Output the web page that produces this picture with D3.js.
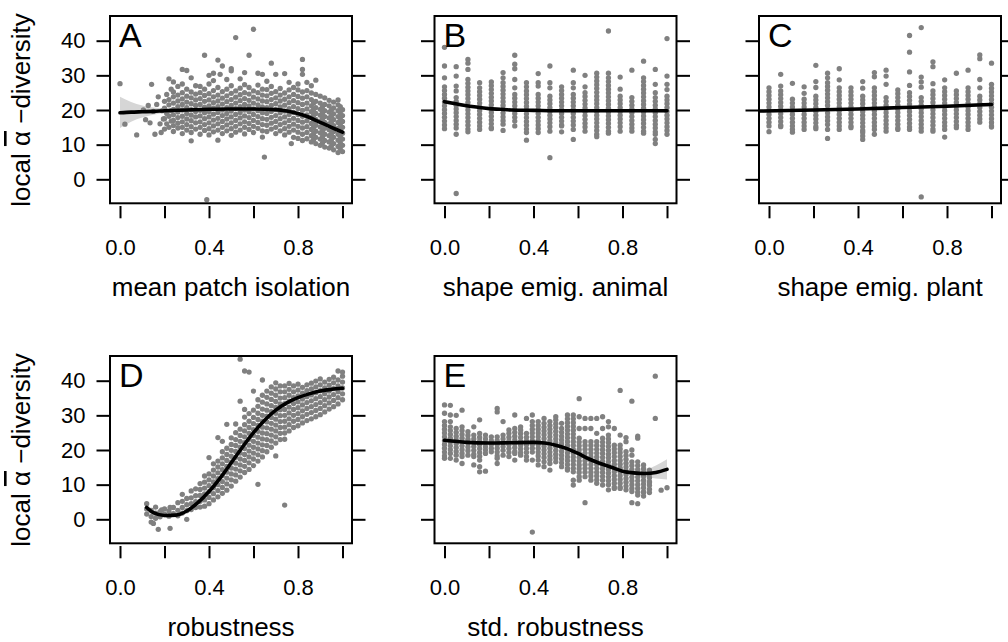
<!DOCTYPE html>
<html><head><meta charset="utf-8">
<script src="https://cdn.jsdelivr.net/npm/d3@7/dist/d3.min.js"></script>
<style>body{margin:0;background:#fff} svg text{font-family:"Liberation Sans",Arial,sans-serif;fill:#000}</style>
</head><body><svg id="c" width="1008" height="642"></svg>
<script>
// ---------- tick / label data ----------
const xTicks=[0,0.2,0.4,0.6,0.8,1.0];
const xTickLabels=["0.0","","0.4","","0.8",""];
const yTicks=[0,10,20,30,40];
const panelLetters=["A","B","C","D","E"];
const xTitles=["mean patch isolation","shape emig. animal","shape emig. plant","robustness","std. robustness"];
const yTitle=["local ","\u03b1"," \u2212diversity"];

// ---------- panel A (mean patch isolation) ----------
const aSparse=[[0,27.6],[0.022,15.9],[0.075,12.8],[0.105,20],[0.115,17.2],[0.127,21.3],[0.135,16.3],[0.142,27.4],[0.15,19.6],[0.157,13],[0.165,21.6],[0.172,23.8],[0.18,16],[0.185,13.5],[0.19,19.8],[0.195,17.4],[0.39,-5.9],[0.649,6.4],[0.77,10.3]];
const aSlices=[
[0.20,[14.5,17.5,20.5,22.5]],[0.21,[16,19,24.5]],[0.22,[15,18.2,21.5,23,29]],[0.23,[16.8,19.8,26]],
[0.24,[13.8,15.5,17,18.6,20.2,22,23.8,25.2,28.1]],[0.26,[14.8,16.2,17.8,19.4,21,22.6,24.3,26.8]],
[0.28,[13.2,15,16.6,18.2,20,21.6,23.2,25,27.5,31.7]],[0.30,[14.2,15.8,17.4,19,20.7,22.3,24,26,31.4]],
[0.32,[11.1,13.5,15.2,16.9,18.5,20.1,21.8,23.5,25.2,29.3]],[0.34,[14.5,16.3,18,19.6,21.3,22.9,24.6,27]],
[0.36,[13,15,16.6,18.3,19.9,21.6,23.3,25,26.8]],[0.38,[14.1,15.8,17.5,19.2,20.8,22.5,24.2,26,35.8]],
[0.40,[12.8,14.6,16.3,18,19.6,21.2,22.9,24.7,27.5,30]],[0.42,[13.7,15.4,17.1,18.8,20.5,22.1,23.8,25.6,28.5,30.6]],
[0.44,[11.3,14.2,16,17.6,19.3,21,22.6,24.3,26.5,34.4]],[0.45,[30.3]],
[0.46,[13.2,15,16.7,18.4,20,21.7,23.4,25.3,32.7]],[0.48,[14,15.7,17.4,19,20.7,22.4,24.1,26,28.8]],
[0.50,[12.7,14.6,16.3,18,19.7,21.3,23,24.8,27,31.9,31.3]],[0.52,[13.6,15.3,17,18.7,20.4,22,23.7,25.5,40.9]],
[0.54,[14.2,16,17.7,19.3,21,22.7,24.4,26.3,29]],[0.56,[13.1,15,16.6,18.3,20,21.6,23.3,25,27.3,30.8]],
[0.58,[14.4,16.1,17.8,19.5,21.2,22.8,24.6,26.5,35.8]],[0.60,[13.5,15.3,17,18.7,20.3,22,23.7,25.5,43.3]],
[0.62,[14.7,16.4,18.1,19.8,21.5,23.2,25,27.2,30.6]],[0.64,[12.2,14,15.8,17.5,19.2,20.9,22.6,24.3,26,30.3]],
[0.66,[13.8,15.6,17.3,19,20.7,22.4,24.1,25.9,28.3]],[0.68,[14.5,16.2,17.9,19.6,21.3,23,24.8,26.8,33.5]],
[0.70,[13.2,15,16.7,18.4,20.1,21.8,23.5,25.3,30.3]],[0.72,[14,15.8,17.5,19.2,20.9,22.6,24.3,26.2]],
[0.74,[12.8,14.6,16.3,18,19.7,21.4,23.1,24.9,30.5]],[0.76,[13.6,15.3,17,18.7,20.4,22.1,23.8,25.8,28]],
[0.78,[12.1,14.2,15.9,17.6,19.3,21,22.7,24.5,26.5]],[0.80,[11.8,13.6,15.3,17,18.7,20.4,22.1,23.9,25.8,27.5]],
[0.82,[11.2,13,14.8,16.5,18.2,19.9,21.6,23.4,25.2,30.3,31.7,34.6]],[0.84,[11.7,13.5,15.2,16.9,18.6,20.3,22,23.8,25.6,28]],
[0.86,[10.8,12.6,14.4,16.1,17.8,19.5,21.2,23,24.9,27]],[0.87,[11.5,13.2,15,16.8,18.5,20.2,22]],
[0.88,[10.3,12.1,13.9,15.6,17.3,19,20.7,22.5,24.5,28.6]],[0.90,[9.8,11.6,13.4,15.1,16.8,18.5,20.2,22,24]],
[0.91,[10.5,12.3,14,15.8,17.5,19.2,21]],[0.92,[9.3,11.2,13,14.7,16.4,18.1,19.8,21.6,23.5]],
[0.94,[9,10.8,12.6,14.3,16,17.7,19.4,21.2,22.8]],[0.95,[9.6,11.4,13.1,14.9,16.6,18.3,20]],
[0.96,[8.5,10.3,12.1,13.8,15.5,17.2,18.9,20.6,22.3]],[0.98,[7.7,9.5,11.3,13,14.7,16.4,18.1,19.8,21.5,22.9]],
[0.99,[8.8,10.6,12.4,14.1,15.8,17.5,19.2,21]],[1.00,[8,9.8,11.6,13.3,15,16.7,18.4,20.1]]];
const aFitX=[0,0.05,0.1,0.15,0.2,0.3,0.4,0.5,0.6,0.7,0.75,0.8,0.85,0.9,0.95,1.0];
const aFitY=[19.2,19.4,19.5,19.6,19.8,20.0,20.2,20.3,20.3,20.1,19.7,19.0,17.9,16.4,15.0,13.6];
const aFitLo=[14.8,16.6,17.8,18.6,19.1,19.5,19.8,19.9,19.9,19.7,19.3,18.6,17.5,16.0,14.5,12.9];
const aFitHi=[23.8,22.3,21.3,20.7,20.5,20.5,20.6,20.7,20.7,20.5,20.1,19.4,18.3,16.8,15.5,14.3];

// ---------- panels B and C (20 discrete levels) ----------
const bcLevels=[0,0.0526,0.1053,0.1579,0.2105,0.2632,0.3158,0.3684,0.4211,0.4737,0.5263,0.5789,0.6316,0.6842,0.7368,0.7895,0.8421,0.8947,0.9474,1];
const bCols=[
[38.1,32.7,29.3,26.7,25.6,24.5,23.4,22.3,21.2,20.1,19,17.9,16.8,15.7,14.6],
[32.5,29.8,26.9,25.5,23.6,22.5,21.4,20.3,19.2,18.1,17,15.9,14.8,13,-4.1],
[34.6,33.5,31.7,28.8,27.7,26.6,25.5,24.4,23.3,22.2,21.1,20,18.9,17.8,16.7,15.6,14.5,13.7],
[27.9,26.4,25.3,24.2,23.1,22,20.9,19.8,18.7,17.6,16.5,15.4,14.4],
[28.1,27,25.9,24.8,23.7,22.6,21.5,20.4,19.3,18.2,17.1,16,14.9,14.6],
[30.8,29.3,27.9,26.8,25.7,24.6,23.5,22.4,21.3,20.2,19.1,18,16.9,15.9,14.1],
[35.8,33.2,31.9,28.8,26.4,24.5,23.4,22.3,21.2,20.1,19,17.9,16.8,15.4],
[27.9,26.7,25.5,24.4,23.3,22.2,21.1,20,18.9,17.8,16.7,15.6,14.5,13.5,11.3],
[30.5,27.9,26.9,24.5,23.4,22.3,21.2,20.1,19,17.9,16.8,15.7,14.6,13.5],
[32.7,27.9,26.4,24,22.9,21.8,20.7,19.6,18.5,17.4,16.3,15.2,13.9,6.25],
[26.7,25.6,24.5,23.4,22.3,21.2,20.1,19,17.9,16.8,15.7,15.4,13.7],
[31.5,27.9,26.4,24.5,23.4,22.3,21.2,20.1,19,17.9,16.8,15.7,14.4,11.5],
[30,26.7,25,23.9,22.8,21.7,20.6,19.5,18.4,17.3,16.2,15.1,13.9],
[30.6,29.5,28.4,27.3,26.2,25.1,24,22.9,21.8,20.7,19.6,18.5,17.4,16.3,15.2,14.1,13,12.3],
[42.8,30.6,29.3,28.2,27.1,26,24.9,23.8,22.7,21.6,20.5,19.4,18.3,17.2,16.1,15,13.9,13.3],
[29.5,26,24,22.9,21.8,20.7,19.6,18.5,17.4,16.3,15.2,13.9],
[31.5,23.6,22.5,21.4,20.3,19.2,18.1,17,15.9,14.8,13.9],
[34.1,29.3,28.2,27.1,26,24.9,23.8,22.7,21.6,20.5,19.4,18.3,17.2,16.1,15,13.9,13.3],
[31.7,27.4,25,23.6,22.5,21.4,20.3,19.2,18.1,17,15.9,14.8,13.7,13,11.5,10.3],
[40.6,29.8,27.4,25.9,24,22.9,21.8,20.7,19.6,18.5,17.4,16.3,15.2,14.1,13]];
const bFitX=[0,0.05,0.1,0.15,0.2,0.25,0.3,0.4,0.5,0.6,0.7,0.8,0.9,1.0];
const bFitY=[22.4,21.8,21.2,20.8,20.4,20.2,20.0,19.9,19.8,19.8,19.8,19.8,19.8,19.8];
const bFitLo=[21.8,21.3,20.8,20.5,20.1,19.9,19.7,19.6,19.5,19.5,19.5,19.5,19.4,19.3];
const bFitHi=[23.0,22.3,21.6,21.1,20.7,20.5,20.3,20.2,20.1,20.1,20.1,20.1,20.2,20.3];
const cCols=[
[26.4,25.3,24.2,23.1,22,20.9,19.8,18.7,17.6,16.5,15.4,13.75],
[30.3,26.9,25.5,24.4,23.3,22.2,21.1,20,18.9,17.8,16.7,15.6,15.2],
[27.7,23.1,22,20.9,19.8,18.7,17.6,16.5,15.4,14.4,13.6],
[26.7,24.8,23.1,22,20.9,19.8,18.7,17.6,16.5,15.4,14.4],
[32.9,28.2,26.5,24,22.9,21.8,20.7,19.6,18.5,17.4,16.3,15.2,14.6],
[30.6,29.3,27.9,26.8,25.7,24.6,23.5,22.4,21.3,20.2,19.1,18,16.9,15.8,14.4,11.8],
[31.9,28.7,26.4,25.3,24.2,23.1,22,20.9,19.8,18.7,17.6,16.5,15.4,14.4],
[26.4,25.3,24.2,23.1,22,20.9,19.8,18.7,17.6,16.5,15.4,14.9],
[28.2,26.3,24,22.9,21.8,20.7,19.6,18.5,17.4,16.3,15.2,14.1,13.5,12.5,11.5],
[30.8,29.6,26.4,25.3,24.2,23.1,22,20.9,19.8,18.7,17.6,16.5,15.4,14.4,13],
[31.5,29.8,27.4,23.6,22.5,21.4,20.3,19.2,18.1,17,15.9,14.8,13.9],
[25.8,24.7,23.6,22.5,21.4,20.3,19.2,18.1,17,15.9,14.8,14.4],
[41.5,36.7,31,27.1,25,23.9,22.8,21.7,20.6,19.5,18.4,17.3,16.2,15.1,14.4],
[43.8,29.5,28.1,26.6,23.6,22.5,21.4,20.3,19.2,18.1,17,15.9,14.8,13.9,-5.1],
[33.9,32.5,27.6,25.5,24.4,23.3,22.2,21.1,20,18.9,17.8,16.7,15.6,14.5,13.9],
[28.7,26.4,25.3,24.2,23.1,22,20.9,19.8,18.7,17.6,16.5,15.4,14.4,12.2],
[30.6,25.5,24.4,23.3,22.2,21.1,20,18.9,17.8,16.7,15.6,14.9],
[31.5,26.4,25.3,24.2,23.1,22,20.9,19.8,18.7,17.6,16.5,15.4,14.4],
[35.9,34.8,28.8,26.4,24,22.9,21.8,20.7,19.6,18.5,17.4,16.5],
[33.5,27.4,26.3,25.2,24.1,23,21.9,20.8,19.7,18.6,17.5,16.4,15.4,15.1]];
const cFitX=[-0.04,0.2,0.4,0.6,0.8,1.0];
const cFitY=[19.7,20.0,20.3,20.7,21.1,21.6];
const cFitLo=[19.3,19.7,20.0,20.4,20.7,21.1];
const cFitHi=[20.1,20.3,20.6,21.0,21.5,22.1];

// ---------- panel D (robustness) ----------
const dSlices=[
[0.12,[4.5,3,1.5]],[0.14,[2.6,0.8,-0.8]],[0.15,[-1.2]],[0.16,[1.8,0.3,3.5]],[0.172,[-2.9]],[0.18,[2.2,0.7]],
[0.187,[2.7]],[0.20,[1.5,3]],[0.22,[0.9,2.4]],[0.225,[-2.6,3.4]],[0.24,[1.6,3.4]],[0.26,[1,2.6,4.8]],
[0.28,[1.8,3.4,5.2,7.2]],[0.30,[0,2.5,4.2,6]],[0.32,[2.8,4.5,6.2,8.2]],[0.34,[3.4,5.1,6.8,8.8]],
[0.36,[3.5,5.2,6.9,8.6,10.3]],[0.38,[3.8,5.6,7.3,9,10.7,12.5]],[0.40,[4.5,6.3,8,9.7,11.4,13.1,17.8]],
[0.42,[5.6,7.4,9.1,10.8,12.5,14.2,16]],[0.44,[6.5,8.3,10,11.7,13.4,15.1,16.8,23.6]],
[0.46,[7.5,9.2,10.9,12.6,14.3,16,17.7,19.5,22.5]],[0.48,[8.4,10.2,11.9,13.6,15.3,17,18.7,20.5,27.4]],
[0.50,[9.6,11.4,13.1,14.8,16.5,18.2,19.9,21.6,23.5]],[0.52,[11,12.8,14.5,16.2,17.9,19.6,21.3,23,25,27.5]],
[0.54,[12.2,14,15.7,17.4,19.1,20.8,22.5,24.2,26,34.1,46.2]],
[0.56,[13.5,15.3,17,18.7,20.4,22.1,23.8,25.5,27.3,29.5,31.7,42.8]],
[0.58,[14.4,16.3,18,19.7,21.4,23.1,24.8,26.5,28.3,30.5,42.5]],
[0.60,[15.5,17.4,19.1,20.8,22.5,24.2,25.9,27.6,29.4,31.5,37]],
[0.62,[10.1,16.8,18.6,20.3,22,23.7,25.4,27.1,28.8,30.6,32.6,34.5]],
[0.64,[18,19.8,21.5,23.2,24.9,26.6,28.3,30,31.8,33.8,35.8,40.2]],
[0.66,[19.5,21.3,23,24.7,26.4,28.1,29.8,31.5,33.3,35.2,37]],
[0.68,[20.8,22.6,24.3,26,27.7,29.4,31.1,32.8,34.6,36.4,38.2]],
[0.70,[18.3,22,23.8,25.5,27.2,28.9,30.6,32.3,34,35.8,37.6,39.4]],
[0.72,[23,24.8,26.5,28.2,29.9,31.6,33.3,35,36.8,38.5]],
[0.74,[4.1,23.1,24.9,26.6,28.3,30,31.7,33.4,35.1,36.8,38.5]],
[0.76,[25.5,27.3,29,30.7,32.4,34.1,35.8,37.5,39.2]],[0.78,[26.5,28.3,30,31.7,33.4,35.1,36.8,38.5]],
[0.80,[27,28.8,30.5,32.2,33.9,35.6,37.3,39]],[0.82,[27.8,29.6,31.3,33,34.7,36.4,38.1]],
[0.84,[28.5,30.3,32,33.7,35.4,37.1,38.8]],[0.86,[29,30.8,32.5,34.2,35.9,37.6,39.3]],
[0.88,[29.6,31.4,33.1,34.8,36.5,38.2,39.9]],[0.90,[30.2,32,33.7,35.4,37.1,38.8,40.5]],
[0.92,[31,32.8,34.5,36.2,37.9,39.6]],[0.94,[31.8,33.6,35.3,37,38.7,40.4]],
[0.96,[32.5,34.3,36,37.7,39.4,41]],[0.98,[33.3,35.1,36.8,38.5,40.2,42.8]],[1.00,[34.5,36.2,37.9,39.6,41.3,42.5]]];
const dFitX=[0.12,0.15,0.2,0.25,0.3,0.35,0.4,0.45,0.5,0.55,0.6,0.65,0.7,0.75,0.8,0.85,0.9,0.95,1.0];
const dFitY=[3.4,1.9,1.1,1.2,2.4,4.8,8.0,11.9,16.3,20.8,25.0,28.6,31.5,33.6,35.1,36.2,37.0,37.5,37.8];
const dFitLo=[2.4,1.1,0.5,0.7,2.0,4.4,7.6,11.5,15.9,20.4,24.6,28.2,31.1,33.2,34.7,35.8,36.6,37.0,37.2];
const dFitHi=[4.4,2.7,1.7,1.7,2.8,5.2,8.4,12.3,16.7,21.2,25.4,29.0,31.9,34.0,35.5,36.6,37.4,38.0,38.4];

// ---------- panel E (std. robustness, 39 discrete levels) ----------
const eLevels=[0,0.0263,0.0526,0.0789,0.1053,0.1316,0.1579,0.1842,0.2105,0.2368,0.2632,0.2895,0.3158,0.3421,0.3684,0.3947,0.4211,0.4474,0.4737,0.5,0.5263,0.5526,0.5789,0.6053,0.6316,0.6579,0.6842,0.7105,0.7368,0.7632,0.7895,0.8158,0.8421,0.8684,0.8947,0.9211,0.9474,0.9737,1];
const eCols=[
[33,30.6,28.2,27.1,26,24.9,23.8,22.7,21.6,20.5,19.4,18.3,17.6],
[32.9,30.1,28.2,26.7,25.6,24.5,23.4,22.3,21.2,20.1,19,17.6],
[30,26.2,25.1,24,22.9,21.8,20.7,19.6,18.5,17.1],
[31.5,26.7,25.6,24.5,23.4,22.3,21.2,20.1,19,18.1,16.1],
[25.3,24.2,23.1,22,20.9,19.8,18.5],
[26.7,24.3,23.2,22.1,21,19.9,18.8,18.1,15.7],
[28.7,24.8,23.7,22.6,21.5,20.4,19.3,18.2,17.1,15.2,13.7],
[24.3,23.2,22.1,21,20,19,13.9],
[23.8,22.7,21.6,20.5,19.5],
[32,31,23.8,22.7,21.6,20.5,19.4,18.3,17.6,16.1],
[28.2,24.3,23.2,22.1,21,19.9,18.5],
[25.8,24.8,23.7,22.6,21.5,20.4,19.3,18.1],
[30.1,26.2,25.1,24,22.9,21.8,20.7,19.6,19,17.1],
[26.7,25.8,24.7,23.6,22.5,21.4,20.3,19.2,18.5],
[29.1,24.8,23.7,22.6,21.5,20.4,19.3,18.1,17.1],
[30.1,28.2,27.1,26,24.9,23.8,22.7,21.6,20.5,19.4,17.1,-3.7],
[28.2,27.1,26,24.9,23.8,22.7,21.6,20.5,19.4,18.3,17.1,15.7],
[29.1,27.7,26.6,25.5,24.4,23.3,22.2,21.1,20,18.9,17.8,16.6,15.2],
[28.2,27.1,26,24.9,23.8,22.7,21.6,20.5,19.4,18.3,17.2,16.1,14.2],
[29.6,28.7,27.6,26.5,25.4,24.3,23.2,22.1,21,19.9,18.8,17.7,16.6],
[27.7,26.2,25.1,24,22.9,21.8,20.7,19.6,18.5,17.4,16.3,15.2],
[30.1,29,27.9,26.8,25.7,24.6,23.5,22.4,21.3,20.2,19.1,18,16.9,15.8,14.7,14.2],
[30.1,29,27.9,26.8,25.7,24.6,23.5,22.4,21.3,20.2,19.1,18,16.9,15.8,14.7,13.7,11.3,9.9],
[34.8,29.6,26.2,23.4,22.3,21.2,20.1,19,17.9,16.8,15.7,14.6,13.5,12.3,11.3],
[29.1,26.2,22.4,21.3,20.2,19.1,18,16.9,15.8,14.7,13.6,12.3,4.8],
[29.1,26.2,22.4,21.3,20.2,19.1,18,16.9,15.8,14.7,13.6,12.5,11.3],
[29.1,24.8,22.4,21.3,20.2,19.1,18,16.9,15.8,14.7,13.6,12.5,11.4,10.4],
[29.6,26.2,23.4,22.3,21.2,20.1,19,17.9,16.8,15.7,14.6,13.5,12.4,11.3,9.9],
[28.2,26.7,24.3,23.2,22.1,21,19.9,18.8,17.7,16.6,15.5,14.4,13.3,12.2,11.1,10,8.5],
[26.2,21.4,20.3,19.2,18.1,17,15.9,14.8,13.7,12.6,11.5,10.4,9.3,8.9],
[37.2,24.3,21.4,20.3,19.2,18.1,17,15.9,14.8,13.7,12.6,11.5,10.4,9.3,8.9],
[23.6,22.4,19.5,18.4,17.3,16.2,15.1,14,12.9,11.8,10.7,9.6,8.5],
[34.1,20,18.5,16.6,15.5,14.4,13.3,12.2,11.1,10,8.9,8,4.8],
[24,23.4,16.6,15.5,14.4,13.3,12.2,11.1,10,8.9,7.8,7,4.5],
[15.7,14.6,13.5,12.4,11.3,10.2,9.1,8,7.7,6.7],
[14.2,13.1,12,10.9,10.6,9.8,8.7,7.7],
[41.3,29.1],
[8.4],
[9.1]];
const eFitX=[0,0.1,0.2,0.3,0.4,0.45,0.5,0.55,0.6,0.65,0.7,0.75,0.8,0.85,0.9,0.95,1.0];
const eFitY=[22.8,22.2,22.0,22.1,22.2,22.0,21.4,20.4,19.0,17.4,16.1,15.0,13.9,13.4,13.2,13.5,14.4];
const eFitLo=[22.2,21.8,21.6,21.7,21.8,21.6,21.0,20.0,18.6,17.0,15.7,14.6,13.5,12.9,12.3,11.8,11.5];
const eFitHi=[23.4,22.6,22.4,22.5,22.6,22.4,21.8,20.8,19.4,17.8,16.5,15.4,14.3,13.9,14.2,15.5,17.3];

// ---------- assemble ----------
const fromSlices=s=>s.flatMap(([x,ys])=>ys.map(y=>[x,y]));
const fromCols=(lv,cols)=>cols.flatMap((ys,i)=>ys.map(y=>[lv[i],y]));
const panels=[
 {col:0,row:0,pts:aSparse.concat(fromSlices(aSlices)),fx:aFitX,fy:aFitY,lo:aFitLo,hi:aFitHi},
 {col:1,row:0,pts:fromCols(bcLevels,bCols),fx:bFitX,fy:bFitY,lo:bFitLo,hi:bFitHi},
 {col:2,row:0,pts:fromCols(bcLevels,cCols),fx:cFitX,fy:cFitY,lo:cFitLo,hi:cFitHi},
 {col:0,row:1,pts:fromSlices(dSlices),fx:dFitX,fy:dFitY,lo:dFitLo,hi:dFitHi},
 {col:1,row:1,pts:fromCols(eLevels,eCols),fx:eFitX,fy:eFitY,lo:eFitLo,hi:eFitHi}];

const svg=d3.select("#c");
const colOff=[0,324.5,649], rowOff=[0,340];
const PT="#808080", BAND="#d6d6d6";

panels.forEach((p,pi)=>{
  const ox=colOff[p.col], oy=rowOff[p.row];
  const L=110+ox, R=352+ox, T=16+oy, B=203.3+oy;
  const x=d3.scaleLinear().domain([0,1]).range([120+ox,342.5+ox]);
  const y=d3.scaleLinear().domain([0,40]).range([179.3+oy,40.7+oy]);
  const cid="clip"+pi;
  svg.append("clipPath").attr("id",cid).append("rect").attr("x",L).attr("y",T).attr("width",R-L).attr("height",B-T);
  const g=svg.append("g").attr("clip-path",`url(#${cid})`);
  const idx=d3.range(p.fx.length);
  g.append("path").datum(idx).attr("fill",BAND)
    .attr("d",d3.area().x(i=>x(p.fx[i])).y0(i=>y(p.lo[i])).y1(i=>y(p.hi[i])).curve(d3.curveMonotoneX));
  g.selectAll("circle").data(p.pts).join("circle")
    .attr("cx",d=>x(d[0])).attr("cy",d=>y(d[1])).attr("r",2.65).attr("fill",PT);
  g.append("path").datum(idx).attr("fill","none").attr("stroke","#000").attr("stroke-width",3.6)
    .attr("stroke-linecap","round")
    .attr("d",d3.line().x(i=>x(p.fx[i])).y(i=>y(p.fy[i])).curve(d3.curveMonotoneX));
  // box
  svg.append("rect").attr("x",L).attr("y",T).attr("width",R-L).attr("height",B-T)
    .attr("fill","none").attr("stroke","#000").attr("stroke-width",2);
  // bottom axis
  const ax=svg.append("g").attr("transform",`translate(0,${B+2.7})`)
    .call(d3.axisBottom(x).tickValues(xTicks).tickSize(12.3).tickSizeOuter(0).tickPadding(21).tickFormat((d,i)=>xTickLabels[i]));
  // left axis
  const ay=svg.append("g").attr("transform",`translate(${L},0)`)
    .call(d3.axisLeft(y).tickValues(yTicks).tickSize(13.5).tickSizeOuter(0).tickPadding(11).tickFormat(d=>p.col===0?d:""));
  // right axis
  const ar=svg.append("g").attr("transform",`translate(${R},0)`)
    .call(d3.axisRight(y).tickValues(yTicks).tickSize(13.5).tickSizeOuter(0).tickFormat(()=>""));
  [ax,ay,ar].forEach(a=>{
    a.select(".domain").remove();
    a.selectAll("line").attr("stroke","#000").attr("stroke-width",2);
    a.selectAll("text").style("font-size","22px").style("font-family","'Liberation Sans',Arial,sans-serif").attr("fill","#000");
  });
  // panel letter
  svg.append("text").attr("x",L+9).attr("y",T+31).style("font-size","34px").text(panelLetters[pi]);
  // x title
  svg.append("text").attr("x",(L+R)/2).attr("y",296+oy).attr("text-anchor","middle").style("font-size","26px").text(xTitles[pi]);
  // y title
  if(p.col===0){
    const t=svg.append("text").attr("transform",`translate(30,${110+oy}) rotate(-90)`)
      .attr("text-anchor","middle").style("font-size","26px");
    t.append("tspan").text(yTitle[0]);
    t.append("tspan").text(yTitle[1]).style("text-decoration","overline");
    t.append("tspan").text(yTitle[2]);
  }
});
</script></body></html>
